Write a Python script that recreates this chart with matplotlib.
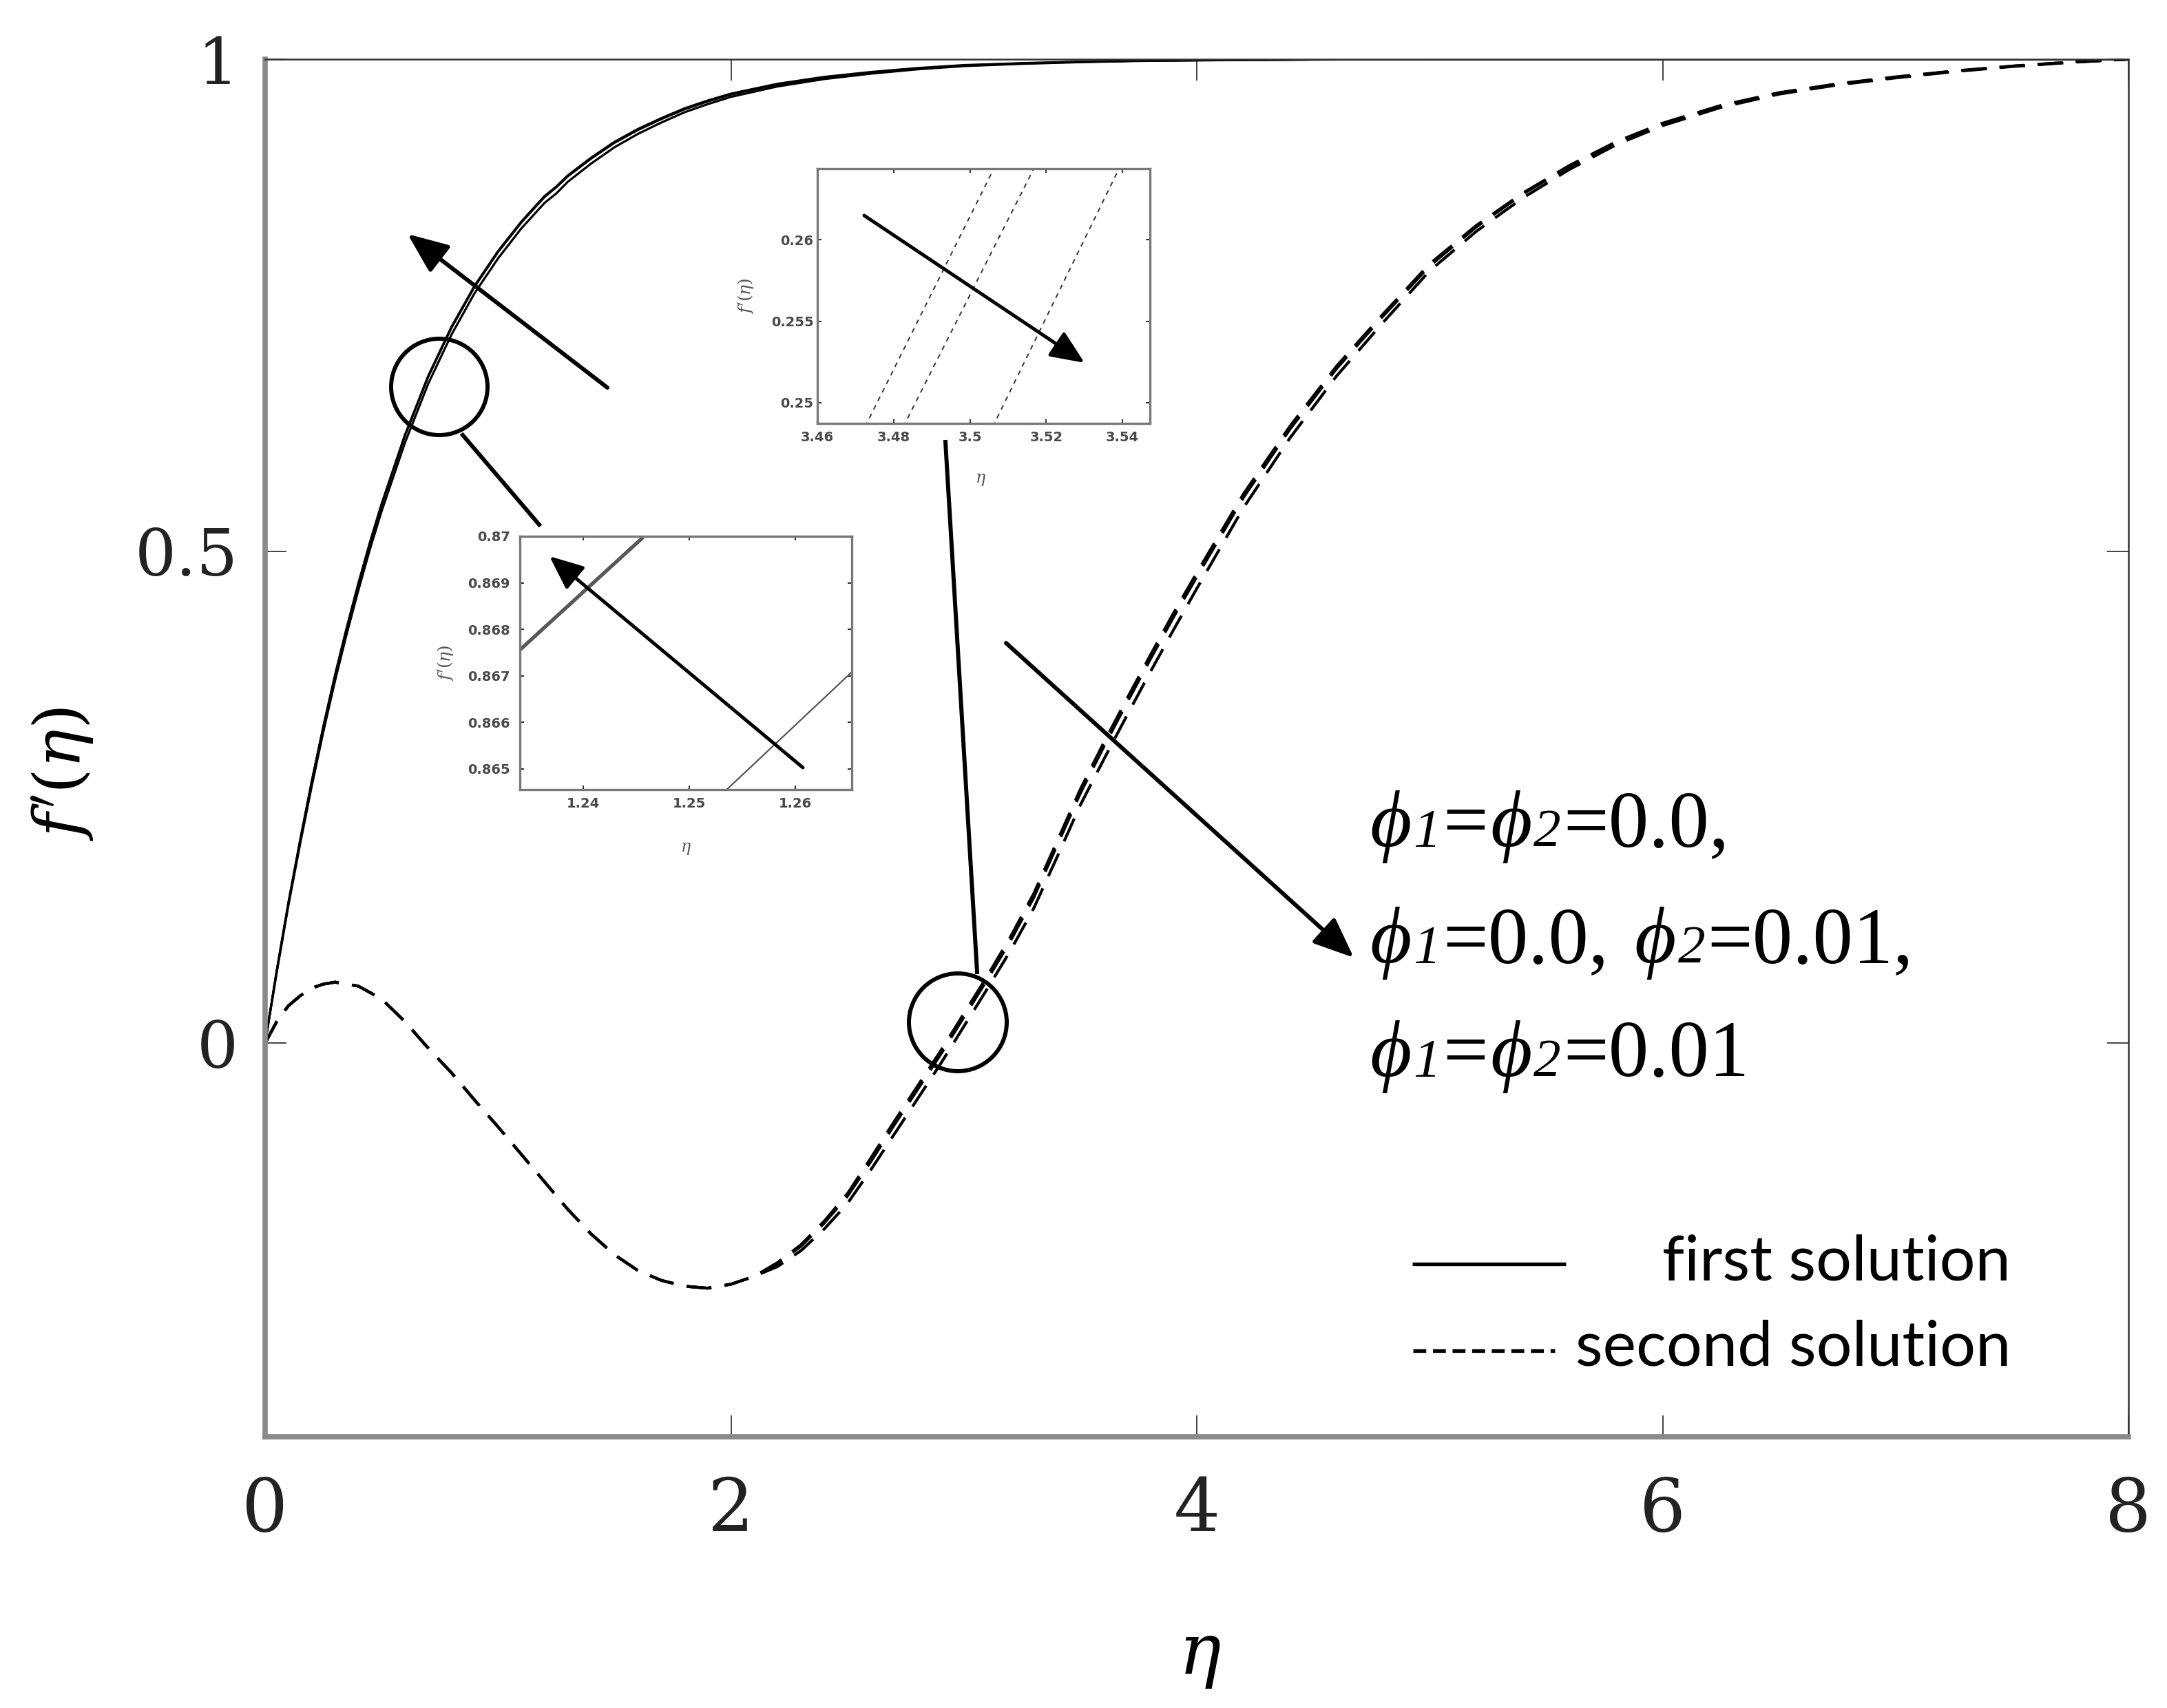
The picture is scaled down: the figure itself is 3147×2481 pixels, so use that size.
"""
f'(eta) profiles, first and second solutions, with two zoom insets.
Writes out.png (3147 x 2481).
"""
import matplotlib

matplotlib.use("Agg")
import matplotlib.pyplot as plt
from matplotlib.lines import Line2D
from matplotlib.patches import ArrowStyle, Ellipse, FancyArrowPatch
from matplotlib.transforms import IdentityTransform

W, H, DPI = 3147, 2481, 100

# ── data ─────────────────────────────────────────────────────────────────
ETA_FIRST = [0, 0.05, 0.1, 0.15, 0.2, 0.25, 0.3, 0.35, 0.4, 0.45,
             0.5, 0.6, 0.7, 0.8, 0.9, 1.0, 1.1, 1.2, 1.25, 1.3,
             1.4, 1.5, 1.6, 1.7, 1.8, 1.9, 2.0, 2.2, 2.4, 2.6,
             2.8, 3.0, 3.25, 3.5, 3.75, 4.0, 4.5, 5.0, 6.0, 7.0, 8.0]
# phi1 = phi2 = 0.0
F_FIRST_A = [0.000, 0.074, 0.143, 0.206, 0.266, 0.322, 0.374, 0.422, 0.467, 0.509,
             0.548, 0.618, 0.678, 0.728, 0.770, 0.805, 0.835, 0.861, 0.8705, 0.882,
             0.900, 0.916, 0.929, 0.940, 0.950, 0.958, 0.965, 0.975, 0.982, 0.987,
             0.991, 0.994, 0.996, 0.9975, 0.9985, 0.999, 0.9997, 1.000, 1.000, 1.000, 1.000]
# phi1 = 0.0, phi2 = 0.01
F_FIRST_B = [0.000, 0.0735, 0.142, 0.205, 0.265, 0.321, 0.373, 0.421, 0.466, 0.508,
             0.547, 0.617, 0.677, 0.727, 0.769, 0.804, 0.834, 0.860, 0.8698, 0.881,
             0.899, 0.915, 0.928, 0.939, 0.949, 0.957, 0.964, 0.9743, 0.9813, 0.9863,
             0.9903, 0.9935, 0.9957, 0.9973, 0.9984, 0.9989, 0.9997, 1.000, 1.000, 1.000, 1.000]
# phi1 = phi2 = 0.01
F_FIRST_C = [0.000, 0.072, 0.140, 0.202, 0.261, 0.3165, 0.368, 0.4155, 0.460, 0.502,
             0.5405, 0.610, 0.670, 0.720, 0.7625, 0.7975, 0.828, 0.854, 0.8635, 0.8755,
             0.894, 0.9105, 0.924, 0.9355, 0.946, 0.9543, 0.9617, 0.9723, 0.9798, 0.9853,
             0.9897, 0.993, 0.9953, 0.997, 0.9982, 0.9988, 0.9996, 1.000, 1.000, 1.000, 1.000]

ETA_SECOND = [0, 0.05, 0.1, 0.15, 0.2, 0.25, 0.3, 0.4, 0.5, 0.6, 0.7, 0.8, 0.9,
              1.0, 1.1, 1.2, 1.3, 1.4, 1.5, 1.6, 1.7, 1.8, 1.9,
              2.0, 2.1, 2.2, 2.3, 2.4, 2.5, 2.6, 2.7, 2.8, 2.9,
              3.0, 3.1, 3.2, 3.3, 3.4, 3.5, 3.6, 3.7, 3.8, 3.9,
              4.0, 4.2, 4.4, 4.6, 4.8, 5.0, 5.2, 5.4, 5.6, 5.8,
              6.0, 6.25, 6.5, 6.75, 7.0, 7.25, 7.5, 7.75, 8.0]
F_SECOND_A = [0.000, 0.022, 0.038, 0.048, 0.056, 0.060, 0.062, 0.058, 0.045, 0.022, -0.005, -0.030, -0.058,
              -0.085, -0.113, -0.141, -0.169, -0.194, -0.215, -0.231, -0.241, -0.247, -0.249,
              -0.245, -0.237, -0.223, -0.205, -0.181, -0.153, -0.117, -0.080, -0.044, -0.008,
              0.030, 0.068, 0.108, 0.152, 0.205, 0.258, 0.305, 0.350, 0.394, 0.437,
              0.478, 0.558, 0.627, 0.688, 0.741, 0.792, 0.831, 0.864, 0.892, 0.916,
              0.935, 0.953, 0.966, 0.975, 0.982, 0.988, 0.993, 0.997, 1.000]
F_SECOND_B = [0.000, 0.022, 0.038, 0.048, 0.056, 0.060, 0.062, 0.058, 0.045, 0.022, -0.005, -0.030, -0.058,
              -0.085, -0.113, -0.141, -0.169, -0.194, -0.215, -0.231, -0.241, -0.247, -0.249,
              -0.245, -0.237, -0.224, -0.2065, -0.183, -0.1555, -0.1205, -0.0835, -0.0475, -0.0115,
              0.0265, 0.0645, 0.104, 0.148, 0.201, 0.254, 0.301, 0.346, 0.390, 0.433,
              0.474, 0.5545, 0.624, 0.6855, 0.739, 0.790, 0.8295, 0.863, 0.891, 0.915,
              0.9343, 0.9525, 0.9656, 0.9747, 0.9817, 0.9878, 0.9929, 0.997, 1.000]
F_SECOND_C = [0.000, 0.022, 0.038, 0.048, 0.056, 0.060, 0.062, 0.058, 0.045, 0.022, -0.005, -0.030, -0.058,
              -0.085, -0.113, -0.141, -0.169, -0.194, -0.215, -0.231, -0.241, -0.247, -0.249,
              -0.245, -0.237, -0.227, -0.211, -0.189, -0.163, -0.129, -0.093, -0.057, -0.021,
              0.017, 0.055, 0.094, 0.137, 0.189, 0.242, 0.288, 0.333, 0.377, 0.420,
              0.462, 0.544, 0.615, 0.678, 0.7325, 0.785, 0.825, 0.859, 0.888, 0.913,
              0.9325, 0.951, 0.9645, 0.9738, 0.981, 0.9873, 0.9925, 0.9967, 1.000]

X_TICKS = [0, 2, 4, 6, 8]
X_TICK_LABELS = ["0", "2", "4", "6", "8"]
Y_TICKS = [0, 0.5, 1]
Y_TICK_LABELS = ["0", "0.5", "1"]

# inset 1: first solution near eta = 1.25
INSET1_ETA_A = [1.234, 1.2456]
INSET1_F_A = [0.86758, 0.87000]
INSET1_ETA_B = [1.234, 1.2456]
INSET1_F_B = [0.86753, 0.86995]
INSET1_ETA_C = [1.2535, 1.2653]
INSET1_F_C = [0.86455, 0.86708]
INSET1_X_TICKS = [1.24, 1.25, 1.26]
INSET1_X_LABELS = ["1.24", "1.25", "1.26"]
INSET1_Y_TICKS = [0.865, 0.866, 0.867, 0.868, 0.869, 0.870]
INSET1_Y_LABELS = ["0.865", "0.866", "0.867", "0.868", "0.869", "0.87"]

# inset 2: second solution near eta = 3.5
INSET2_F = [0.248, 0.265]
INSET2_ETA_A = [3.4714, 3.5076]
INSET2_ETA_B = [3.4814, 3.5181]
INSET2_ETA_C = [3.5049, 3.5404]
INSET2_X_TICKS = [3.46, 3.48, 3.50, 3.52, 3.54]
INSET2_X_LABELS = ["3.46", "3.48", "3.5", "3.52", "3.54"]
INSET2_Y_TICKS = [0.25, 0.255, 0.26]
INSET2_Y_LABELS = ["0.25", "0.255", "0.26"]

LEGEND_LABELS = ["first solution", "second solution"]
PHI_LINES = [
    [("ϕ", "italic", 1.0), ("1", "italic", 0.68), ("=", "normal", 1.0),
     ("ϕ", "italic", 1.0), ("2", "italic", 0.68), ("=0.0,", "normal", 1.0)],
    [("ϕ", "italic", 1.0), ("1", "italic", 0.68), ("=0.0,", "normal", 1.0),
     (" ", None, None),
     ("ϕ", "italic", 1.0), ("2", "italic", 0.68), ("=0.01,", "normal", 1.0)],
    [("ϕ", "italic", 1.0), ("1", "italic", 0.68), ("=", "normal", 1.0),
     ("ϕ", "italic", 1.0), ("2", "italic", 0.68), ("=0.01", "normal", 1.0)],
]

plt.rcParams["mathtext.fontset"] = "dejavuserif"
plt.rcParams["lines.scale_dashes"] = False
plt.rcParams["font.family"] = ["DejaVu Serif"]

SERIF = ["Liberation Serif", "DejaVu Serif"]
INSET_TICK_COLOR = "#4a4a4a"


def box(left, top, right, bottom):
    """Axes rectangle from image pixel edges."""
    return [left / W, 1 - bottom / H, (right - left) / W, (bottom - top) / H]


def fpt(x, y):
    """Image pixel -> figure fraction."""
    return (x / W, 1 - y / H)


def arrow(fig, tail, tip, lw=4.3, head_len=36, head_w=15):
    a = FancyArrowPatch(fpt(*tail), fpt(*tip), transform=fig.transFigure,
                        arrowstyle=ArrowStyle("-|>", head_length=head_len,
                                              head_width=head_w),
                        mutation_scale=1, lw=lw, color="black",
                        shrinkA=0, shrinkB=0)
    fig.add_artist(a)


def segment(fig, p, q, lw=4.3, **kw):
    (x1, y1), (x2, y2) = fpt(*p), fpt(*q)
    fig.add_artist(Line2D([x1, x2], [y1, y2], transform=fig.transFigure,
                          lw=lw, color="black", **kw))


def circle(fig, centre, r, lw=4.3):
    fig.add_artist(Ellipse(fpt(*centre), 2 * r / W, 2 * r / H,
                           transform=fig.transFigure, fill=False,
                           lw=lw, ec="black"))


def style_inset(ax, xlim, ylim, xticks, xlabels, yticks, ylabels):
    ax.set_xlim(*xlim)
    ax.set_ylim(*ylim)
    ax.set_xticks(xticks)
    ax.set_xticklabels(xlabels)
    ax.set_yticks(yticks)
    ax.set_yticklabels(ylabels)
    ax.tick_params(direction="in", length=4, width=1.5, top=True, right=True,
                   labelsize=14, labelcolor=INSET_TICK_COLOR, colors="#333333")
    for lab in ax.get_xticklabels() + ax.get_yticklabels():
        lab.set_family("DejaVu Sans")
        lab.set_fontweight("bold")
        lab.set_color(INSET_TICK_COLOR)
    for sp in ax.spines.values():
        sp.set_linewidth(2.4)
        sp.set_color("#777777")


fig = plt.figure(figsize=(W / DPI, H / DPI), dpi=DPI)
fig.patch.set_facecolor("white")

# ── main axes ────────────────────────────────────────────────────────────
ax = fig.add_axes(box(385, 86, 3091, 2087))
for f in (F_FIRST_A, F_FIRST_B, F_FIRST_C):
    ax.plot(ETA_FIRST, f, color="black", lw=2.3)
for f in (F_SECOND_A, F_SECOND_B, F_SECOND_C):
    ax.plot(ETA_SECOND, f, color="black", lw=3.0, dashes=(26, 14))

ax.set_xlim(0, 8)
ax.set_ylim(-0.4, 1.0)
ax.set_xticks(X_TICKS)
ax.set_xticklabels(X_TICK_LABELS, fontsize=76)
ax.set_yticks(Y_TICKS)
ax.set_yticklabels(Y_TICK_LABELS, fontsize=68)
ax.tick_params(direction="in", length=22, width=1.2, top=True, right=True,
               colors="#222222")
ax.tick_params(axis="x", pad=40)
ax.tick_params(axis="y", pad=28)
for side in ("left", "bottom"):
    ax.spines[side].set_linewidth(5.5)
    ax.spines[side].set_color("#8a8a8a")
for side in ("top", "right"):
    ax.spines[side].set_linewidth(1.8)
    ax.spines[side].set_color("#333333")

ax.set_xlabel(r"$\eta$", fontsize=74)
ax.set_ylabel(r"$f'(\eta)$", fontsize=68)
ax.xaxis.set_label_coords(0.5015, -0.159)
ax.xaxis.label.set_va("center")
ax.yaxis.set_label_coords(-0.109, 0.481)
ax.yaxis.label.set_va("center")

# ── inset 1 (first solution) ─────────────────────────────────────────────
ins1 = fig.add_axes(box(755, 779, 1237, 1147))
ins1.plot(INSET1_ETA_A, INSET1_F_A, color="#555555", lw=2.0)
ins1.plot(INSET1_ETA_B, INSET1_F_B, color="#555555", lw=2.0)
ins1.plot(INSET1_ETA_C, INSET1_F_C, color="#555555", lw=1.6)
style_inset(ins1, (1.234, 1.2653), (0.86455, 0.870), INSET1_X_TICKS,
            INSET1_X_LABELS, INSET1_Y_TICKS, INSET1_Y_LABELS)
ins1.tick_params(axis="y", pad=10)
ins1.tick_params(axis="x", pad=8)
ins1.set_xlabel(r"$\eta$", fontsize=17, color="#555555")
ins1.set_ylabel(r"$f'(\eta)$", fontsize=18, color="#555555")
ins1.xaxis.set_label_coords(0.5, -0.20)
ins1.yaxis.set_label_coords(-0.222, 0.50)
ins1.yaxis.label.set_va("center")

# ── inset 2 (second solution) ────────────────────────────────────────────
ins2 = fig.add_axes(box(1187, 245, 1670, 615))
for eta in (INSET2_ETA_A, INSET2_ETA_B, INSET2_ETA_C):
    ins2.plot(eta, INSET2_F, color="#333333", lw=1.4, dashes=(5, 5))
style_inset(ins2, (3.46, 3.5472), (0.24873, 0.26437), INSET2_X_TICKS,
            INSET2_X_LABELS, INSET2_Y_TICKS, INSET2_Y_LABELS)
ins2.tick_params(axis="y", pad=4)
ins2.tick_params(axis="x", pad=8)
ins2.set_xlabel(r"$\eta$", fontsize=17, color="#555555")
ins2.set_ylabel(r"$f'(\eta)$", fontsize=18, color="#555555")
ins2.xaxis.set_label_coords(0.49, -0.19)
ins2.yaxis.set_label_coords(-0.213, 0.50)
ins2.yaxis.label.set_va("center")

# ── annotations (image pixel coordinates) ────────────────────────────────
circle(fig, (638, 562), 70)
circle(fig, (1391, 1485), 71)
segment(fig, (672, 632), (783, 762))
segment(fig, (1419, 1412), (1373, 642))
arrow(fig, (882, 563), (592, 340))
arrow(fig, (1461, 934), (1966, 1391))
arrow(fig, (1166, 1115), (798, 808), lw=3.6, head_len=30, head_w=13)
arrow(fig, (1255, 313), (1575, 527), lw=3.6, head_len=30, head_w=13)

# legend drawn by hand: samples on the left, text right-aligned
segment(fig, (2051, 1836), (2274, 1836), lw=3.8, solid_capstyle="butt")
segment(fig, (2052, 1962), (2258, 1962), lw=3.8, dashes=(13.5, 7),
        dash_capstyle="butt")
for label, base in zip(LEGEND_LABELS, (1860, 1983)):
    fig.text(2920 / W, 1 - base / H, label, fontsize=66, family="Lato",
             ha="right", va="baseline")

# phi legend, pieced together so the indices can be smaller
renderer = fig.canvas.get_renderer()
PHI_SIZE = 84
for parts, base in zip(PHI_LINES, (1229, 1398, 1563)):
    x = 1989
    for piece, style, scale in parts:
        if style is None:
            x += 34
            continue
        t = fig.text(x, H - base, piece, transform=IdentityTransform(),
                     fontsize=PHI_SIZE * scale, style=style, family=SERIF,
                     ha="left", va="baseline")
        x += t.get_window_extent(renderer).width + 3

fig.savefig("out.png", dpi=DPI, facecolor="white")
